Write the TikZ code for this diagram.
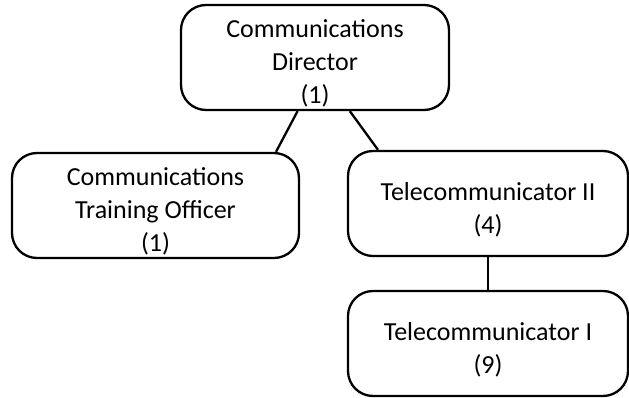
\documentclass[tikz,border=0pt]{standalone}
\usepackage{fontspec}
\setmainfont{Carlito}
\newcommand{\lift}{\rule{0pt}{30pt}}

\begin{document}
\begin{tikzpicture}[x=1pt, y=1pt,
	office/.style={draw, rounded corners=25pt, line width=2.3pt, align=center,
		font=\fontsize{26}{33}\selectfont, inner sep=0pt}]
	 \useasboundingbox (0,0) rectangle (629,397);
	 \node[office, minimum width=268pt, minimum height=105pt] (director) at (315,339.5) {\lift Communications\\Director\\(1)};
	 \node[office, minimum width=287pt, minimum height=105pt] (trainer) at (155.5,191.5) {\lift Communications\\Training Officer\\(1)};
	 \node[office, minimum width=280pt, minimum height=105pt] (telecomII) at (488,193.5) {\lift Telecommunicator II\\(4)};
	 \node[office, minimum width=280pt, minimum height=105pt] (telecomI) at (488,53.5) {\lift Telecommunicator I\\(9)};
	 %
	 \draw[line width=2.3pt] (director.252) -- (trainer.24.4);
	 \draw[line width=2.3pt] (director.303.7) -- (telecomII.154.7);
	 \draw[line width=2.3pt] (telecomII) -- (telecomI);
\end{tikzpicture}
\end{document}
